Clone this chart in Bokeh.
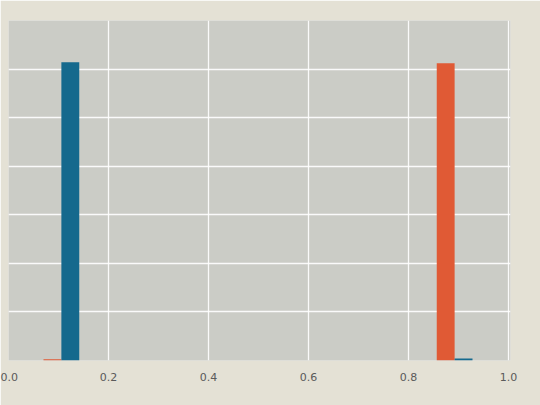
from bokeh.plotting import figure
from bokeh.models import FixedTicker, Range1d, ColumnDataSource, NumeralTickFormatter
from bokeh.embed import file_html
from bokeh.resources import INLINE

# Histogram data
bin_edges = [0.070, 0.1415, 0.213, 0.2845, 0.356, 0.4275, 0.499,
             0.5705, 0.642, 0.7135, 0.785, 0.8565, 0.928]
counts_orange = [25, 0, 0, 0, 0, 0, 0, 0, 0, 0, 0, 6120]
counts_blue = [6140, 0, 0, 0, 0, 0, 0, 0, 0, 0, 0, 40]
x_ticks = [0.0, 0.2, 0.4, 0.6, 0.8, 1.0]
y_ticks = [0, 1000, 2000, 3000, 4000, 5000, 6000, 7000]

left_o, right_o, left_b, right_b = [], [], [], []
for lo, hi in zip(bin_edges[:-1], bin_edges[1:]):
    mid = (lo + hi) / 2
    left_o.append(lo); right_o.append(mid)
    left_b.append(mid); right_b.append(hi)

src_o = ColumnDataSource(dict(left=left_o, right=right_o, top=counts_orange,
                              bottom=[0] * len(counts_orange)))
src_b = ColumnDataSource(dict(left=left_b, right=right_b, top=counts_blue,
                              bottom=[0] * len(counts_blue)))

p = figure(width=540, height=405, output_backend="svg", toolbar_location=None,
           x_range=Range1d(0.0, 1.004), y_range=Range1d(0, 7000),
           min_border_left=8, min_border_right=30, min_border_top=20,
           min_border_bottom=45)

p.background_fill_color = "#cbccc6"
p.border_fill_color = "#e4e1d5"
p.outline_line_color = None

p.quad(left="left", right="right", top="top", bottom="bottom", source=src_o,
       fill_color="#e05a35", line_color=None)
p.quad(left="left", right="right", top="top", bottom="bottom", source=src_b,
       fill_color="#15698d", line_color=None)

p.xaxis.ticker = FixedTicker(ticks=x_ticks)
p.xaxis.formatter = NumeralTickFormatter(format="0.0")
p.xaxis.axis_line_color = None
p.xaxis.major_tick_line_color = None
p.xaxis.minor_tick_line_color = None
p.xaxis.major_label_text_font = "DejaVu Sans"
p.xaxis.major_label_text_font_size = "11px"
p.xaxis.major_label_text_color = "#5a5a5a"
p.xaxis.major_label_standoff = 6

p.yaxis.visible = False
p.ygrid.ticker = FixedTicker(ticks=y_ticks)
p.xgrid.ticker = FixedTicker(ticks=x_ticks)
p.grid.grid_line_color = "white"
p.grid.grid_line_width = 1.3
p.grid.grid_line_alpha = 0.9

open("out.html", "w").write(file_html(p, INLINE))
